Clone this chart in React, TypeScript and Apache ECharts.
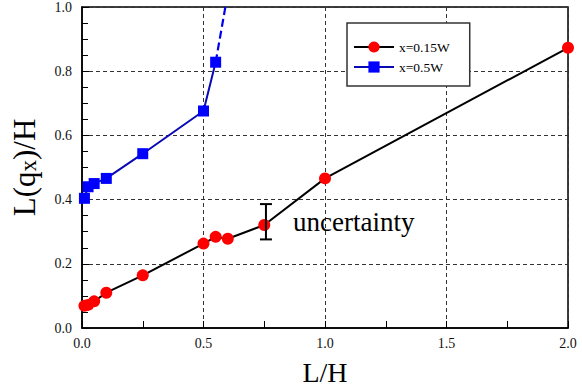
import React, { useEffect, useRef } from "react";
import * as echarts from "echarts";

const FONT = "Liberation Serif, Times New Roman, serif";

const redX = [0.01, 0.025, 0.05, 0.1, 0.25, 0.5, 0.55, 0.6, 0.75, 1.0, 2.0];
const redY = [0.069, 0.072, 0.083, 0.11, 0.164, 0.263, 0.284, 0.278, 0.321, 0.466, 0.873];

const blueX = [0.01, 0.025, 0.05, 0.1, 0.25, 0.5, 0.55];
const blueY = [0.404, 0.44, 0.45, 0.466, 0.543, 0.676, 0.828];

const blueDashX = [0.55, 0.59];
const blueDashY = [0.828, 1.0];

const errX = [0.757];
const errLow = [0.276];
const errHigh = [0.386];
const errLabel = "uncertainty";

const seriesNames = ["x=0.15W", "x=0.5W"];

export default function App() {
  const ref = useRef<HTMLDivElement>(null);
  useEffect(() => {
    if (!ref.current) return;
    const chart = echarts.init(ref.current, undefined, { renderer: "svg" });
    const zip = (xs: number[], ys: number[]) => xs.map((x, i) => [x, ys[i]]);
    const labelStyle = {
      fontFamily: FONT,
      fontSize: 14,
      color: "#111",
    };
    const option: any = {
      animation: false,
      backgroundColor: "#fff",
      textStyle: { fontFamily: FONT, color: "#000" },
      grid: {
        left: 82,
        top: 6,
        right: 14,
        bottom: 61,
        show: true,
        borderColor: "#000",
        borderWidth: 1.5,
        backgroundColor: "transparent",
      },
      legend: {
        data: seriesNames,
        orient: "vertical",
        left: 347,
        top: 23,
        itemWidth: 40,
        itemHeight: 14,
        itemGap: 6,
        padding: [17, 20, 12, 6],
        borderColor: "#333",
        borderWidth: 1.5,
        backgroundColor: "#fff",
        selectedMode: false,
        textStyle: { fontFamily: FONT, fontSize: 13.5, color: "#000" },
      },
      xAxis: {
        type: "value",
        min: 0,
        max: 2,
        interval: 0.5,
        name: "L/H",
        nameLocation: "middle",
        nameGap: 30,
        nameTextStyle: { fontFamily: FONT, fontSize: 28, color: "#000" },
        axisLine: { show: true, lineStyle: { color: "#000", width: 1.5 } },
        axisTick: { show: true, inside: true, length: 7, lineStyle: { color: "#000" } },
        minorTick: { show: true, splitNumber: 2, length: 7, lineStyle: { color: "#000" } },
        axisLabel: {
          ...labelStyle,
          margin: 8,
          formatter: (v: number) => v.toFixed(1),
        },
        splitLine: { show: true, lineStyle: { color: "#333", type: [4, 3], width: 1 } },
      },
      yAxis: {
        type: "value",
        min: 0,
        max: 1,
        interval: 0.2,
        name: "{a|L(q}{s|x}{a|)/H}",
        nameLocation: "middle",
        nameGap: 42,
        nameTextStyle: {
          fontFamily: FONT,
          color: "#000",
          rich: {
            a: { fontFamily: FONT, fontSize: 31, color: "#000" },
            s: { fontFamily: FONT, fontSize: 23, color: "#000", padding: [9, 0, 0, 0] },
          },
        },
        axisLine: { show: true, lineStyle: { color: "#000", width: 1.5 } },
        axisTick: { show: true, inside: true, length: 7, lineStyle: { color: "#000" } },
        minorTick: { show: true, splitNumber: 4, length: 6, lineStyle: { color: "#000" } },
        axisLabel: {
          ...labelStyle,
          margin: 10,
          formatter: (v: number) => v.toFixed(1),
        },
        splitLine: { show: true, lineStyle: { color: "#333", type: [4, 3], width: 1 } },
      },
      series: [
        {
          name: seriesNames[0],
          type: "line",
          data: zip(redX, redY),
          symbol: "circle",
          symbolSize: 12,
          itemStyle: { color: "#ff0000" },
          lineStyle: { color: "#000", width: 2 },
          z: 3,
        },
        {
          name: seriesNames[1],
          type: "line",
          data: zip(blueX, blueY),
          symbol: "rect",
          symbolSize: 11,
          itemStyle: { color: "#0000ff" },
          lineStyle: { color: "#0a0ab4", width: 2 },
          z: 3,
        },
        {
          name: "blue-extension",
          type: "line",
          data: zip(blueDashX, blueDashY),
          showSymbol: false,
          symbol: "none",
          lineStyle: { color: "#0000ee", width: 2.2, type: [8, 4] },
          z: 2,
        },
        {
          name: "error",
          type: "custom",
          data: errX.map((x, i) => [x, errLow[i], errHigh[i]]),
          renderItem: (params: any, api: any) => {
            const x = api.value(0);
            const lo = api.coord([x, api.value(1)]);
            const hi = api.coord([x, api.value(2)]);
            const cap = 6;
            const style = { stroke: "#000", lineWidth: 2 };
            return {
              type: "group",
              children: [
                { type: "line", shape: { x1: lo[0], y1: lo[1], x2: hi[0], y2: hi[1] }, style },
                { type: "line", shape: { x1: lo[0] - cap, y1: lo[1], x2: lo[0] + cap, y2: lo[1] }, style },
                { type: "line", shape: { x1: hi[0] - cap, y1: hi[1], x2: hi[0] + cap, y2: hi[1] }, style },
                {
                  type: "text",
                  x: lo[0] + 27,
                  y: (lo[1] + hi[1]) / 2,
                  style: {
                    text: errLabel,
                    fontFamily: FONT,
                    fontSize: 27,
                    fill: "#000",
                    verticalAlign: "middle",
                    align: "left",
                  },
                },
              ],
            };
          },
          z: 4,
        },
      ],
    };
    chart.setOption(option);
    return () => chart.dispose();
  }, []);
  return (
    <div
      ref={ref}
      style={{ position: "fixed", left: 0, top: 0, width: 582, height: 391 }}
    />
  );
}
